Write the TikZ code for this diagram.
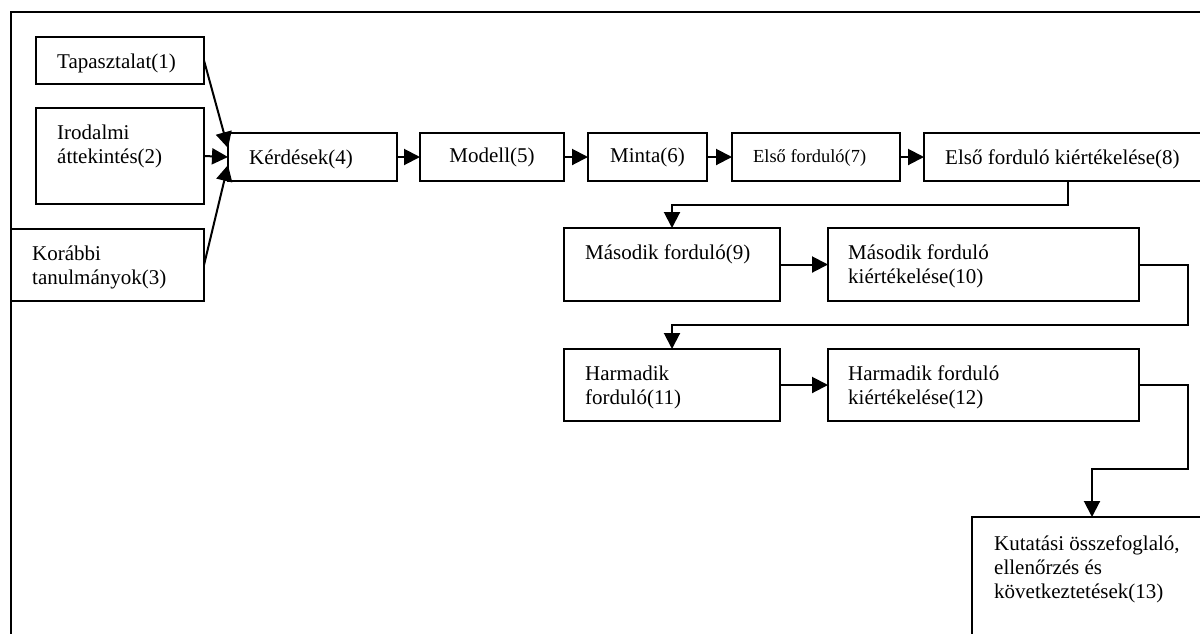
\documentclass[tikz,border=0pt]{standalone}
\usepackage{fontspec}
\setmainfont{Liberation Serif}
\usetikzlibrary{arrows.meta,positioning}

\begin{document}
\begin{tikzpicture}[x=1pt,y=-1pt,font=\fontsize{21}{24}\selectfont,
	doboz/.style={draw,line width=2pt,anchor=north west,inner sep=0pt,outer sep=0pt},
	szoveg/.style={anchor=north west,inner sep=0pt,align=left},
	nyil/.style={line width=2pt,-{Triangle[length=16pt,width=16pt]}}]
					%\draw[help lines] (0,0) grid[step=100] (1200,633);
					\useasboundingbox (0,0) rectangle (1200,633);
					\clip (0,0) rectangle (1200,633);
					%KERET
					\draw[line width=1.3pt] (11,650) -- (11,12) -- (1220,12);
					%DOBOZOK
					\node[doboz,minimum width=168pt,minimum height=47pt] (tap) at (36,37) {};
					\node[doboz,minimum width=168pt,minimum height=96pt] (irod) at (36,108) {};
					\node[doboz,minimum width=193pt,minimum height=72pt] (kor) at (11,229) {};
					\node[doboz,minimum width=169pt,minimum height=48pt] (kerd) at (228,133) {};
					\node[doboz,minimum width=144pt,minimum height=48pt] (modell) at (420,133) {Modell(5)};
					\node[doboz,minimum width=119pt,minimum height=48pt] (minta) at (588,133) {Minta(6)};
					\node[doboz,minimum width=168pt,minimum height=48pt] (elso) at (732,133) {};
					\node[doboz,minimum width=288pt,minimum height=48pt] (elsoert) at (924,133) {};
					\node[doboz,minimum width=216pt,minimum height=73pt] (masodik) at (564,228) {};
					\node[doboz,minimum width=311pt,minimum height=73pt] (masodikert) at (828,228) {};
					\node[doboz,minimum width=216pt,minimum height=72pt] (harmadik) at (564,349) {};
					\node[doboz,minimum width=311pt,minimum height=72pt] (harmadikert) at (828,349) {};
					\node[doboz,minimum width=240pt,minimum height=140pt] (kutatas) at (972,517) {};
					%SZOVEGEK
					\node[szoveg,below right=14pt and 21pt of tap.north west] {\strut Tapasztalat(1)};
					\node[szoveg,below right=14pt and 21pt of irod.north west] {\strut Irodalmi\\áttekintés(2)};
					\node[szoveg,below right=14pt and 21pt of kor.north west] {\strut Korábbi\\tanulmányok(3)};
					\node[szoveg,below right=14pt and 21pt of kerd.north west] {\strut Kérdések(4)};
					\node[szoveg,font=\fontsize{18.4}{22}\selectfont,below right=14pt and 21pt of elso.north west] {\strut Első forduló(7)};
					\node[szoveg,below right=14pt and 21pt of elsoert.north west] {\strut Első forduló kiértékelése(8)};
					\node[szoveg,below right=14pt and 21pt of masodik.north west] {\strut Második forduló(9)};
					\node[szoveg,below right=14pt and 20pt of masodikert.north west] {\strut Második forduló\\kiértékelése(10)};
					\node[szoveg,below right=14pt and 21pt of harmadik.north west] {\strut Harmadik\\forduló(11)};
					\node[szoveg,below right=14pt and 20pt of harmadikert.north west] {\strut Harmadik forduló\\kiértékelése(12)};
					\node[szoveg,below right=16pt and 22pt of kutatas.north west] {\strut Kutatási összefoglaló,\\ellenőrzés és\\következtetések(13)};
					%NYILAK
					\draw[nyil] (tap.east) -- ([yshift=9pt]kerd.west);
					\draw[nyil] (irod.east) -- (kerd.west);
					\draw[nyil] (kor.east) -- ([yshift=-8pt]kerd.west);
					\draw[nyil] (kerd) -- (modell);
					\draw[nyil] (modell) -- (minta);
					\draw[nyil] (minta) -- (elso);
					\draw[nyil] (elso) -- (elsoert);
					\draw[nyil] (elsoert.south) -- ++(0,24) -| (masodik.north);
					\draw[nyil] (masodik) -- (masodikert);
					\draw[nyil] (masodikert.east) -- ++(49,0) |- ([yshift=24pt]harmadik.north) -- (harmadik.north);
					\draw[nyil] (harmadik) -- (harmadikert);
					\draw[nyil] (harmadikert.east) -- ++(49,0) |- ([yshift=48pt]kutatas.north) -- (kutatas.north);
\end{tikzpicture}
\end{document}
